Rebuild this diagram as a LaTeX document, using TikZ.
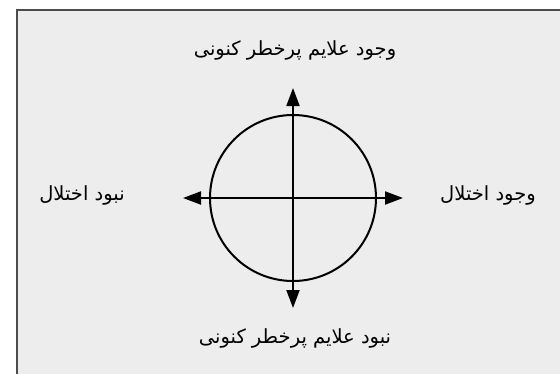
\documentclass[tikz,border=0pt]{standalone}
\usepackage{fontspec}
\newfontfamily\arabicfont[Script=Arabic]{DejaVu Sans}
\TeXXeTstate=1
\usetikzlibrary{arrows.meta}

\begin{document}
\begin{tikzpicture}[
  x=1pt, y=-1pt,
  axis/.style={{Triangle[length=18pt,width=13pt]}-{Triangle[length=18pt,width=13pt]},
    line width=2pt, draw=black},
  ring/.style={circle, draw=black, line width=2pt, minimum size=166pt, inner sep=0pt},
  lab/.style={font=\arabicfont\fontsize{19.5}{22}\selectfont, inner sep=1pt}
]
  \useasboundingbox (0,0) rectangle (560,373);
  % panel
  \fill[gray!14] (17,10) rectangle (565,378);
  \draw[line width=1.2pt, draw=gray!60!black] (17,378) -- (17,10) -- (565,10);

  \coordinate (o) at (293,198);
  \coordinate (tipN) at (293,88);
  \coordinate (tipS) at (293,308);
  \coordinate (tipW) at (183,198);
  \coordinate (tipE) at (403,198);

  \node[ring] (ring) at (o) {};
  \draw[axis] (tipS) -- (tipN);
  \draw[axis] (tipW) -- (tipE);

  \node[lab] (top) at (295,50) {\beginR وجود علایم پرخطر کنونی\endR};
  \node[lab] (bottom) at (295,338) {\beginR نبود علایم پرخطر کنونی\endR};
  \node[lab] (left) at (82,195) {\beginR نبود اختلال\endR};
  \node[lab] (right) at (488,195) {\beginR وجود اختلال\endR};
\end{tikzpicture}
\end{document}
